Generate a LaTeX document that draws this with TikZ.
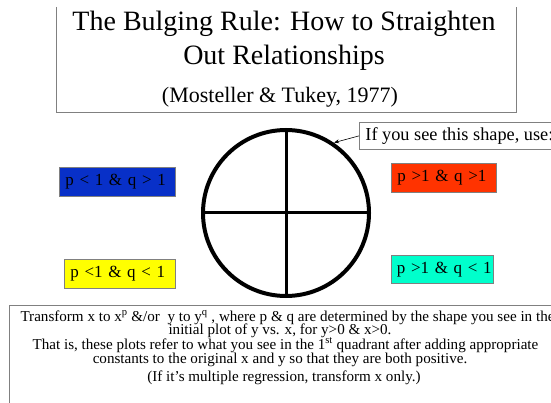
\documentclass[tikz,border=0pt]{standalone}
\usepackage{fontspec}
\setmainfont{Liberation Serif}
\usetikzlibrary{shapes.geometric,arrows.meta}
\definecolor{qblue}{RGB}{8,48,200}
\definecolor{qred}{RGB}{255,51,0}
\definecolor{qyellow}{RGB}{255,255,0}
\definecolor{qcyan}{RGB}{0,255,204}
\definecolor{frame}{RGB}{128,128,128}
\begin{document}
\begin{tikzpicture}[x=1pt,y=-1pt,
  qbox/.style={draw=frame, line width=0.8pt, inner xsep=6pt, inner ysep=0pt,
    minimum height=29pt, anchor=north west, align=left, text=black,
    font=\rmfamily\fontsize{17}{17}\selectfont},
  titlefont/.style={font=\rmfamily\fontsize{28}{28}\selectfont, anchor=base},
  bodyline/.style={font=\rmfamily\fontsize{15.1}{15.1}\selectfont, anchor=base},
]
\useasboundingbox (0,0) rectangle (551,403);
\fill[white] (0,0) rectangle (551,403);
\begin{scope}
\clip (0,0) rectangle (551,403);
% title frame
\draw[frame, line width=0.8pt] (56,7) -- (56,112) -- (516,112) -- (516,7);
\node[titlefont] (t1) at (284,31) {The Bulging Rule: How to Straighten};
\node[titlefont] (t2) at (284,65) {Out Relationships};
\node[font=\rmfamily\fontsize{22}{22}\selectfont, anchor=base] (t3) at (280,103) {(Mosteller \& Tukey, 1977)};
% callout
\node[draw=frame, line width=0.8pt, anchor=north west, minimum height=27pt, inner xsep=6pt, inner ysep=0pt,
      font=\rmfamily\fontsize{18.3}{18.3}\selectfont] (call) at (359,122) {If you see this shape, use:};
% circle
\node[circle, draw, line width=4pt, minimum size=166pt, inner sep=0pt, outer sep=0pt] (c) at (286,213) {};
\draw[line width=3pt] (c.north) -- (c.south);
\draw[line width=3pt] (c.west) -- (c.east);
\draw[-{Stealth[length=5pt,width=4pt]}, line width=0.6pt, shorten >=3pt] (call.west) -- (c.57);
% quadrant boxes
\node[qbox, fill=qblue, text width=104pt] (q2) at (59,167) {p < 1 \& q > 1};
\node[qbox, fill=qyellow, text width=99pt] (q3) at (64,259) {p <1 \& q < 1};
\node[qbox, fill=qred, text width=93pt] (q1) at (391,163) {p >1 \& q >1};
\node[qbox, fill=qcyan, text width=91pt, minimum height=28pt, inner xsep=5.5pt] (q4) at (391,255) {\mbox{p >1 \& q < 1}};
% bottom frame
\draw[frame, line width=0.8pt] (9,410) -- (9,305) -- (560,305);
\node[bodyline, anchor=base west] (b1) at (17,321) {Transform x to x\textsuperscript{p} \&/or\ \ y to y\textsuperscript{q} , where p \& q are determined by the shape you see in the};
\node[bodyline] (b2) at (280,334) {initial plot of y vs. x, for y>0 \& x>0.};
\node[bodyline] (b3) at (285.5,349) {That is, these plots refer to what you see in the 1\textsuperscript{st} quadrant after adding appropriate};
\node[bodyline] (b4) at (280,363) {constants to the original x and y so that they are both positive.};
\node[bodyline] (b5) at (284,381) {(If it’s multiple regression, transform x only.)};
\end{scope}
\end{tikzpicture}
\end{document}
